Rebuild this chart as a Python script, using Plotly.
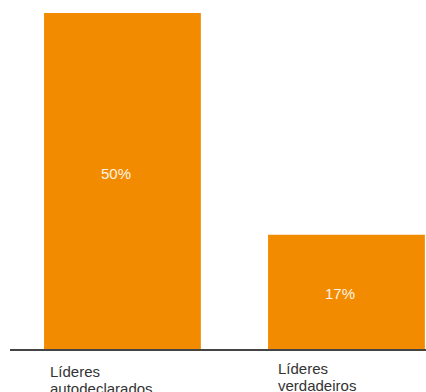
import plotly.graph_objects as go

categories = [["Líderes", "autodeclarados"], ["Líderes", "verdadeiros"]]
values = [50, 17]
value_labels = ["50%", "17%"]

BAR_COLOR = "#F38B00"
BAR_WIDTH = 0.70
FONT = "Liberation Sans, Arial, sans-serif"

fig = go.Figure()
fig.add_trace(go.Bar(
    x=[0, 1],
    y=values,
    width=BAR_WIDTH,
    marker=dict(color=BAR_COLOR, line=dict(width=0)),
    hoverinfo="skip",
))

# value labels inside bars
for i, (v, t) in enumerate(zip(values, value_labels)):
    fig.add_annotation(
        x=i, y=v / 2, xref="x", yref="y", text=t, showarrow=False,
        xshift=-6, yshift=[7, -2][i],
        font=dict(family=FONT, size=15, color="#FFF4E6"),
    )

# category labels, left-aligned under each bar, one annotation per line
LINE_STEP = 17
for i, lines in enumerate(categories):
    for j, line in enumerate(lines):
        fig.add_annotation(
            x=i - BAR_WIDTH / 2, y=0, xref="x", yref="y", text=line, showarrow=False,
            xanchor="left", yanchor="top", align="left",
            xshift=[4, 8][i], yshift=[-12, -9][i] - j * LINE_STEP,
            font=dict(family=FONT, size=15, color="#333333"),
        )

fig.update_layout(
    width=426, height=392,
    margin=dict(l=10, r=0, t=0, b=43),
    paper_bgcolor="white", plot_bgcolor="white",
    showlegend=False,
    xaxis=dict(range=[-0.502, 1.355], showticklabels=False, showgrid=False,
               zeroline=False, showline=True, linecolor="#444444", linewidth=2,
               ticks=""),
    yaxis=dict(range=[0, 51.93], visible=False, showgrid=False, zeroline=False),
)

fig.write_html("out.html")
